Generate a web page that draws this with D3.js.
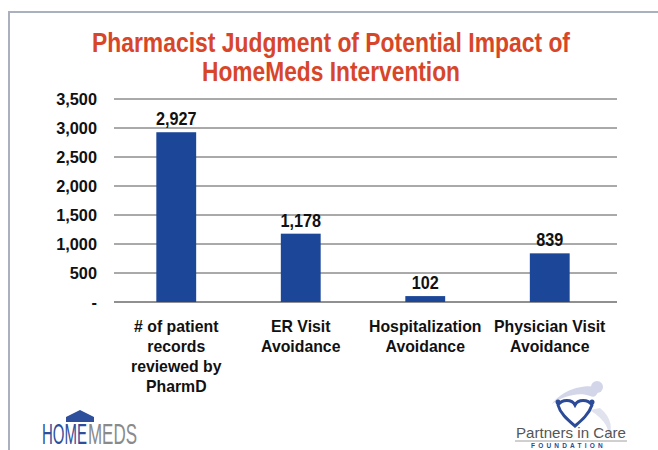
<!DOCTYPE html>
<html><head><meta charset="utf-8">
<script src="https://cdn.jsdelivr.net/npm/d3@7"></script>
<style>
body{margin:0;background:#fff;}
svg{display:block;}
text{font-family:"Liberation Sans",Arial,sans-serif;}
</style></head>
<body>
<svg id="chart" width="658" height="450"></svg>
<script>
const categories = [
  ["# of patient", "records", "reviewed by", "PharmD"],
  ["ER Visit", "Avoidance"],
  ["Hospitalization", "Avoidance"],
  ["Physician Visit", "Avoidance"]
];
const values = [2927, 1178, 102, 839];
const tickValues = [0, 500, 1000, 1500, 2000, 2500, 3000, 3500];
const titleLines = ["Pharmacist Judgment of Potential Impact of", "HomeMeds Intervention"];

const svg = d3.select("#chart");
const fmt = d3.format(",");

function condense(sel, f) {
  sel.each(function() {
    const w = this.getComputedTextLength();
    d3.select(this).attr("textLength", w * f).attr("lengthAdjust", "spacingAndGlyphs");
  });
}

// frame
svg.append("path").attr("d", "M9,450 L9,12 L658,12").attr("fill", "none")
  .attr("stroke", "#aab0bd").attr("stroke-width", 2);

// title
svg.append("g").selectAll("text").data(titleLines).join("text")
  .attr("x", 331).attr("y", (d, i) => 52 + i * 29)
  .attr("text-anchor", "middle")
  .attr("font-size", 27).attr("font-weight", "bold")
  .attr("fill", "#d8462a")
  .attr("textLength", (d, i) => i === 0 ? 478 : 258).attr("lengthAdjust", "spacingAndGlyphs")
  .text(d => d);

const x = d3.scaleBand().domain(d3.range(values.length)).range([114, 612]).paddingInner(0.68).paddingOuter(0.34);
const y = d3.scaleLinear().domain([0, 3500]).range([302, 99]);

// gridlines
svg.append("g").selectAll("line").data(tickValues).join("line")
  .attr("x1", 114).attr("x2", 617)
  .attr("y1", d => y(d)).attr("y2", d => y(d))
  .attr("stroke", d => d === 0 ? "#6b6b6b" : "#555").attr("stroke-width", d => d === 0 ? 1.5 : 1);

// y axis labels
const yAxis = d3.axisLeft(y).tickValues(tickValues).tickSize(0).tickPadding(0)
  .tickFormat(d => d === 0 ? "-" : fmt(d));
const ya = svg.append("g").attr("transform", "translate(97,0)").call(yAxis);
ya.select(".domain").remove();
ya.selectAll("text").attr("font-size", 17).attr("font-weight", "bold")
  .attr("fill", "#111").attr("font-family", null);
condense(ya.selectAll("text"), 0.96);

// bars
svg.append("g").selectAll("rect").data(values).join("rect")
  .attr("x", (d, i) => x(i)).attr("width", x.bandwidth())
  .attr("y", d => y(d)).attr("height", d => y(0) - y(d))
  .attr("fill", "#1c4799");

// value labels
const vl = svg.append("g").selectAll("text").data(values).join("text")
  .attr("x", (d, i) => x(i) + x.bandwidth() / 2).attr("y", d => y(d) - 7)
  .attr("text-anchor", "middle").attr("font-size", 18).attr("font-weight", "bold")
  .attr("fill", "#111").text(d => fmt(d));
condense(vl, 0.9);

// category labels
const cg = svg.append("g");
categories.forEach((lines, i) => {
  const t = cg.selectAll(null).data(lines).join("text")
    .attr("x", x(i) + x.bandwidth() / 2)
    .attr("y", (d, j) => 332 + j * 20)
    .attr("text-anchor", "middle").attr("font-size", 17).attr("font-weight", "bold").attr("fill", "#111")
    .text(d => d);
  condense(t, 0.93);
});

// HomeMeds logo
const hm = svg.append("g");
hm.append("path").attr("d", "M66,422 L66,417 L80,410 L94,417 L94,422 Z").attr("fill", "#2d4f9c");
const home = hm.append("text").attr("x", 0).attr("y", 0)
  .attr("font-size", 29).attr("fill", "#2d4f9c").text("HOME");
const meds = hm.append("text").attr("x", 0).attr("y", 0)
  .attr("font-size", 29).attr("fill", "#8a8a8a").text("MEDS");
const wh = home.node().getComputedTextLength(), wm = meds.node().getComputedTextLength();
home.attr("transform", `translate(42,444) scale(${45 / wh},1)`);
meds.attr("transform", `translate(88,444) scale(${49 / wm},1)`);

// Partners in Care logo
const pc = svg.append("g");
pc.append("path").attr("d", "M552,404 C560,392 585,380 605,390 C596,384 600,400 590,396 C580,392 565,395 552,404 Z").attr("fill", "#d3d6e8");
pc.append("circle").attr("cx", 597).attr("cy", 387).attr("r", 6).attr("fill", "#d3d6e8");
pc.append("path").attr("d", "M590,410 C605,420 612,430 606,440 C614,430 612,418 600,408 Z").attr("fill", "#e0e2ee");
pc.append("path").attr("d", "M558,405 C562,399 572,399 575,405 C578,399 588,399 592,405 C589,414 582,420 575,426 C567,419 560,413 558,405 Z")
  .attr("fill", "none").attr("stroke", "#2b4a97").attr("stroke-width", 3);
pc.append("circle").attr("cx", 558).attr("cy", 402).attr("r", 2.5).attr("fill", "#2b4a97");
pc.append("circle").attr("cx", 592).attr("cy", 402).attr("r", 2.5).attr("fill", "#2b4a97");
pc.append("text").attr("x", 516).attr("y", 438)
  .attr("font-size", 15).attr("fill", "#555").attr("textLength", 110).attr("lengthAdjust", "spacingAndGlyphs").text("Partners in Care");
pc.append("line").attr("x1", 515).attr("x2", 627).attr("y1", 441).attr("y2", 441).attr("stroke", "#888").attr("stroke-width", 0.8);
pc.append("text").attr("x", 531).attr("y", 448)
  .attr("font-size", 6.5).attr("font-weight", "bold").attr("fill", "#2b4a97").attr("letter-spacing", 3.2).text("FOUNDATION");
</script>
</body></html>
